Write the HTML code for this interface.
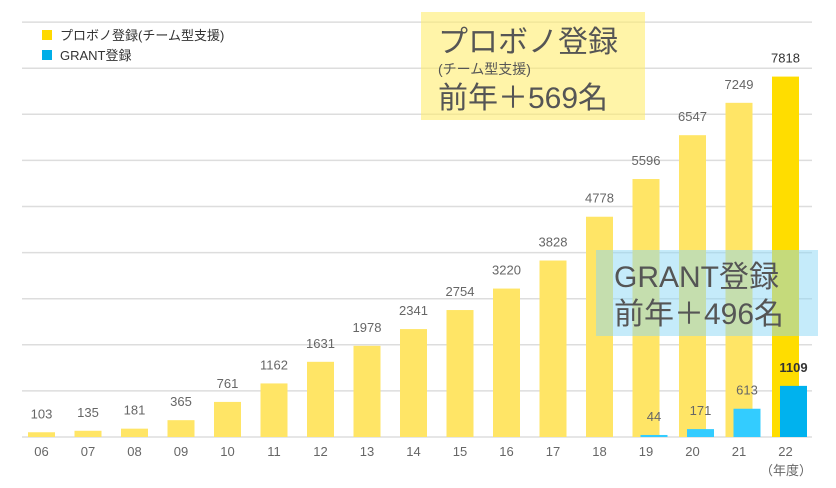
<!DOCTYPE html>
<html><head><meta charset="utf-8"><style>
body{margin:0;background:#fff;}
svg{display:block;font-family:"Liberation Sans","Noto Sans CJK JP",sans-serif;}
</style></head><body>
<svg id="c" width="836" height="488" viewBox="0 0 836 488">
<g id="grid"></g><g id="bars"></g><g id="labels"></g>
<g>
<rect x="42" y="30" width="10" height="10" fill="#ffd900"/>
<text x="60" y="40" font-size="13" fill="#333">プロボノ登録(チーム型支援)</text>
<rect x="42" y="50" width="10" height="10" fill="#00aee8"/>
<text x="60" y="60" font-size="13" fill="#333">GRANT登録</text>
</g>
<g>
<rect x="421" y="12" width="224" height="108" fill="rgba(255,236,110,0.6)"/>
<text x="438" y="52" font-size="30" fill="#555">プロボノ登録</text>
<text x="438" y="74" font-size="14" fill="#555">(チーム型支援)</text>
<text x="438" y="108" font-size="30" fill="#555">前年＋569名</text>
</g>
<g>
<rect x="596" y="250" width="222" height="86" fill="rgba(140,215,245,0.5)"/>
<text x="614" y="287" font-size="30" fill="#555">GRANT登録</text>
<text x="614" y="324" font-size="30" fill="#555">前年＋496名</text>
</g>
<text x="786" y="475" font-size="13" fill="#666" text-anchor="middle">（年度）</text>
</svg>
<script>
const years=["06","07","08","09","10","11","12","13","14","15","16","17","18","19","20","21","22"];
const probono=[103,135,181,365,761,1162,1631,1978,2341,2754,3220,3828,4778,5596,6547,7249,7818];
const grant=[null,null,null,null,null,null,null,null,null,null,null,null,null,44,171,613,1109];
const gridTicks=[0,1000,2000,3000,4000,5000,6000,7000,8000,9000];
const NS="http://www.w3.org/2000/svg";
const y=v=>437-v*0.0461;
const x=i=>41.5+i*46.5;
function mk(t,a,p){const e=document.createElementNS(NS,t);for(const k in a)e.setAttribute(k,a[k]);p.appendChild(e);return e;}
const G=document.getElementById('grid'),B=document.getElementById('bars'),L=document.getElementById('labels');
gridTicks.forEach(t=>{const l=mk('line',{x1:22,x2:812,y1:y(t),y2:y(t),stroke:'#ddd','stroke-width':1.5},G);

});
probono.forEach((v,i)=>{const last=i===probono.length-1;
const r=mk('rect',{x:x(i)-13.5,y:y(v),width:27,height:437-y(v),fill:last?'#ffdd00':'#ffe566'},B);


const t=mk('text',{x:x(i),y:y(v)-14,'font-size':13,'text-anchor':'middle',fill:last?'#333':'#666'},L);t.textContent=v;


const yl=mk('text',{x:x(i),y:456,'font-size':13,'text-anchor':'middle',fill:'#666'},L);yl.textContent=years[i];

});
grant.forEach((v,i)=>{if(v==null)return;const last=i===grant.length-1;
const r=mk('rect',{x:x(i)-5.5,y:y(v),width:27,height:437-y(v),fill:last?'#00b2ee':'#33ccff'},B);


const t=mk('text',{x:x(i)+8,y:y(v)-14,'font-size':13,'text-anchor':'middle',fill:last?'#333':'#666','font-weight':last?'bold':'normal'},L);t.textContent=v;

});
</script>
</body></html>
